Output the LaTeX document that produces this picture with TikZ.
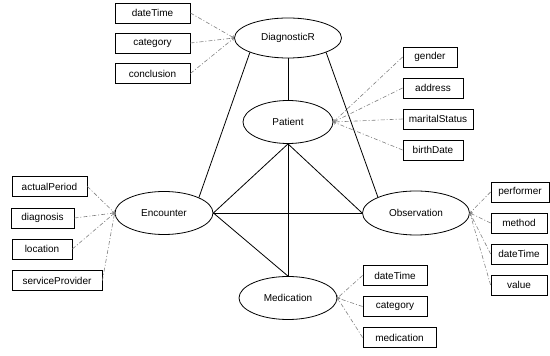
\documentclass[tikz,border=0pt]{standalone}
\usepackage{fontspec}
\setmainfont{Liberation Sans}
\usetikzlibrary{shapes.geometric}

\begin{document}
\begin{tikzpicture}[x=1pt,y=1pt,
  entity/.style={draw,ellipse,line width=0.8pt,inner sep=0pt,minimum height=43pt},
  attr/.style={draw,rectangle,line width=0.8pt,inner sep=0pt,minimum height=20pt},
  rel/.style={line width=0.8pt},
  prop/.style={->,gray,line width=0.6pt,dash pattern=on 4pt off 2pt on 1pt off 2pt}]
 \useasboundingbox (0,0) rectangle (550,356);
 \node[entity,minimum width=107pt,minimum height=40pt] (diag) at (288,318) {DiagnosticR};
 \node[entity,minimum width=90pt] (pat) at (288,234) {Patient};
 \node[entity,minimum width=98pt] (enc) at (164,143) {Encounter};
 \node[entity,minimum width=107pt,minimum height=44pt] (obs) at (416,143) {Observation};
 \node[entity,minimum width=98pt] (med) at (288,58) {Medication};

 \node[attr,minimum width=75pt] (diagTime) at (152.5,343) {dateTime};
 \node[attr,minimum width=75pt] (diagCat) at (152.5,313) {category};
 \node[attr,minimum width=75pt] (diagConc) at (152.5,282.5) {conclusion};

 \node[attr,minimum width=54pt] (patGender) at (430,299) {gender};
 \node[attr,minimum width=60pt] (patAddr) at (433,268) {address};
 \node[attr,minimum width=70pt] (patMarital) at (438,237) {maritalStatus};
 \node[attr,minimum width=60pt] (patBirth) at (433,206) {birthDate};

 \node[attr,minimum width=75pt] (encPeriod) at (49.5,169.5) {actualPeriod};
 \node[attr,minimum width=63pt] (encDiag) at (42.5,138) {diagnosis};
 \node[attr,minimum width=60pt] (encLoc) at (42,107) {location};
 \node[attr,minimum width=90pt] (encProv) at (57,75.5) {serviceProvider};

 \node[attr,minimum width=58pt] (obsPerf) at (520,164) {performer};
 \node[attr,minimum width=56pt] (obsMethod) at (519,133) {method};
 \node[attr,minimum width=56pt] (obsTime) at (519,102) {dateTime};
 \node[attr,minimum width=56pt] (obsValue) at (519,71) {value};

 \node[attr,minimum width=64pt] (medTime) at (395,80.5) {dateTime};
 \node[attr,minimum width=64pt] (medCat) at (395,49.5) {category};
 \node[attr,minimum width=73pt] (medMed) at (399.5,18.5) {medication};

 \draw[rel] (diag.south) -- (pat.north);
 \draw[rel] (diag.south west) -- (enc.north east);
 \draw[rel] (diag.south east) -- (obs.north west);
 \draw[rel] (pat.south) -- (enc.east);
 \draw[rel] (pat.south) -- (obs.west);
 \draw[rel] (pat.south) -- (med.north);
 \draw[rel] (enc.east) -- (obs.west);
 \draw[rel] (enc.east) -- (med.north);

 \foreach \a in {diagTime,diagCat,diagConc}
  \draw[prop] (\a.east) -- (diag.west);
 \foreach \a in {patGender,patAddr,patMarital,patBirth}
  \draw[prop] (\a.west) -- (pat.east);
 \foreach \a in {encPeriod,encDiag,encLoc,encProv}
  \draw[prop] (\a.east) -- (enc.west);
 \foreach \a in {obsPerf,obsMethod,obsTime,obsValue}
  \draw[prop] (\a.west) -- (obs.east);
 \foreach \a in {medTime,medCat,medMed}
  \draw[prop] (\a.west) -- (med.east);
\end{tikzpicture}
\end{document}
